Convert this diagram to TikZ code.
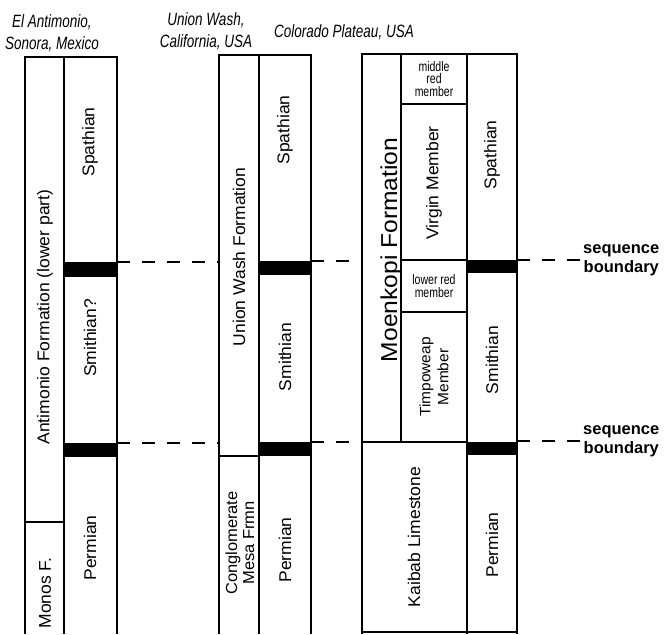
\documentclass[tikz,border=0pt]{standalone}
\usepackage{fontspec}
\setmainfont{Liberation Sans}
\usetikzlibrary{positioning}
\tikzset{
  colbox/.style={draw, line width=1.8pt},
  gapband/.style={fill=black},
  seqline/.style={dash pattern=on 13pt off 12pt, line width=1.6pt},
  flat/.style={yscale=1.32, inner sep=0pt, align=center},
  upright/.style={rotate=90, inner sep=0pt, align=center},
  sitetitle/.style={flat, font=\fontsize{13.5}{17}\itshape},
  unitlabel/.style={upright, xscale=1.03, font=\fontsize{17}{18}\selectfont},
  smalllabel/.style={flat, font=\fontsize{10.5}{9.5}\selectfont},
  seqlabel/.style={inner sep=0pt, align=center, font=\fontsize{16.5}{19}\bfseries}
}

\begin{document}
\begin{tikzpicture}[x=1pt, y=-1pt]
  \useasboundingbox (0,0) rectangle (666,634);

  % site titles
  \node[sitetitle] (t1) at (52,33) {El Antimonio,\\Sonora, Mexico};
  \node[sitetitle] (t2) at (206,31) {Union Wash,\\California, USA};
  \node[sitetitle] (t3) at (344,32) {Colorado Plateau, USA};

  % El Antimonio column
  \draw[colbox] (25,634) |- (117,57) -- (117,634);
  \draw[colbox] (64,57) -- (64,634);
  \draw[colbox] (25,522) -- (64,522);
  \fill[gapband] (64,262) rectangle (117,277);
  \fill[gapband] (64,443) rectangle (117,457);
  \coordinate (a1) at (117,262);
  \coordinate (a2) at (117,443);
  \node[unitlabel] (antform) at (45,317) {Antimonio Formation (lower part)};
  \node[unitlabel] (monos) at (45,593) {Monos F.};
  \node[unitlabel] (aspath) at (90,142) {Spathian};
  \node[unitlabel] (asmith) at (90,338) {Smithian?};
  \node[unitlabel] (aperm) at (90,548) {Permian};

  % Union Wash column
  \draw[colbox] (219,634) |- (311,55) -- (311,634);
  \draw[colbox] (259,55) -- (259,634);
  \draw[colbox] (219,456) -- (259,456);
  \fill[gapband] (259,261) rectangle (311,275);
  \fill[gapband] (259,442) rectangle (311,456);
  \coordinate (u1w) at (219,262);
  \coordinate (u2w) at (219,443);
  \coordinate (u1e) at (311,261);
  \coordinate (u2e) at (311,442);
  \node[unitlabel] (uwform) at (239,257) {Union Wash Formation};
  \node[unitlabel, font=\fontsize{16}{17}\selectfont] (cmesa) at (240,543) {Conglomerate\\Mesa Frmn};
  \node[unitlabel] (uspath) at (285,130) {Spathian};
  \node[unitlabel] (usmith) at (285,357) {Smithian};
  \node[unitlabel] (uperm) at (285,550) {Permian};

  % Colorado Plateau column
  \draw[colbox] (362,634) |- (517,54) -- (517,634);
  \draw[colbox] (362,632) -- (517,632);
  \draw[colbox] (401,54) -- (401,442);
  \draw[colbox] (467,54) -- (467,634);
  \draw[colbox] (362,442) -- (467,442);
  \draw[colbox] (401,104) -- (467,104);
  \draw[colbox] (401,260) -- (467,260);
  \draw[colbox] (401,312) -- (467,312);
  \fill[gapband] (467,260) rectangle (517,273);
  \fill[gapband] (467,442) rectangle (517,455);
  \coordinate (c1w) at (362,261);
  \coordinate (c2w) at (362,442);
  \coordinate (c1e) at (517,260);
  \coordinate (c2e) at (517,441);
  \node[upright, xscale=1.07, anchor=base, font=\fontsize{23}{24}\selectfont] (moenkopi) at (397,250) {Moenkopi Formation};
  \node[smalllabel] (midred) at (434,79) {middle\\red\\member};
  \node[unitlabel] (virgin) at (434,183) {Virgin Member};
  \node[smalllabel] (lowred) at (434,286) {lower red\\member};
  \node[unitlabel, font=\fontsize{15}{18}\selectfont] (timpo) at (434,377) {Timpoweap\\Member};
  \node[unitlabel] (cspath) at (492,155) {Spathian};
  \node[unitlabel] (csmith) at (492,360) {Smithian};
  \node[unitlabel] (kaibab) at (414,537) {Kaibab Limestone};
  \node[unitlabel] (cperm) at (492,545) {Permian};

  % sequence boundaries
  \coordinate (s1) at (583,260);
  \coordinate (s2) at (583,441);
  \draw[seqline] (a1) -- (u1w);
  \draw[seqline] (u1e) -- (c1w);
  \draw[seqline] (c1e) -- (s1);
  \draw[seqline] (a2) -- (u2w);
  \draw[seqline] (u2e) -- (c2w);
  \draw[seqline] (c2e) -- (s2);
  \node[seqlabel, anchor=west] (sb1) at (s1) {sequence\\boundary};
  \node[seqlabel, anchor=west] (sb2) at (s2) {sequence\\boundary};
\end{tikzpicture}
\end{document}
